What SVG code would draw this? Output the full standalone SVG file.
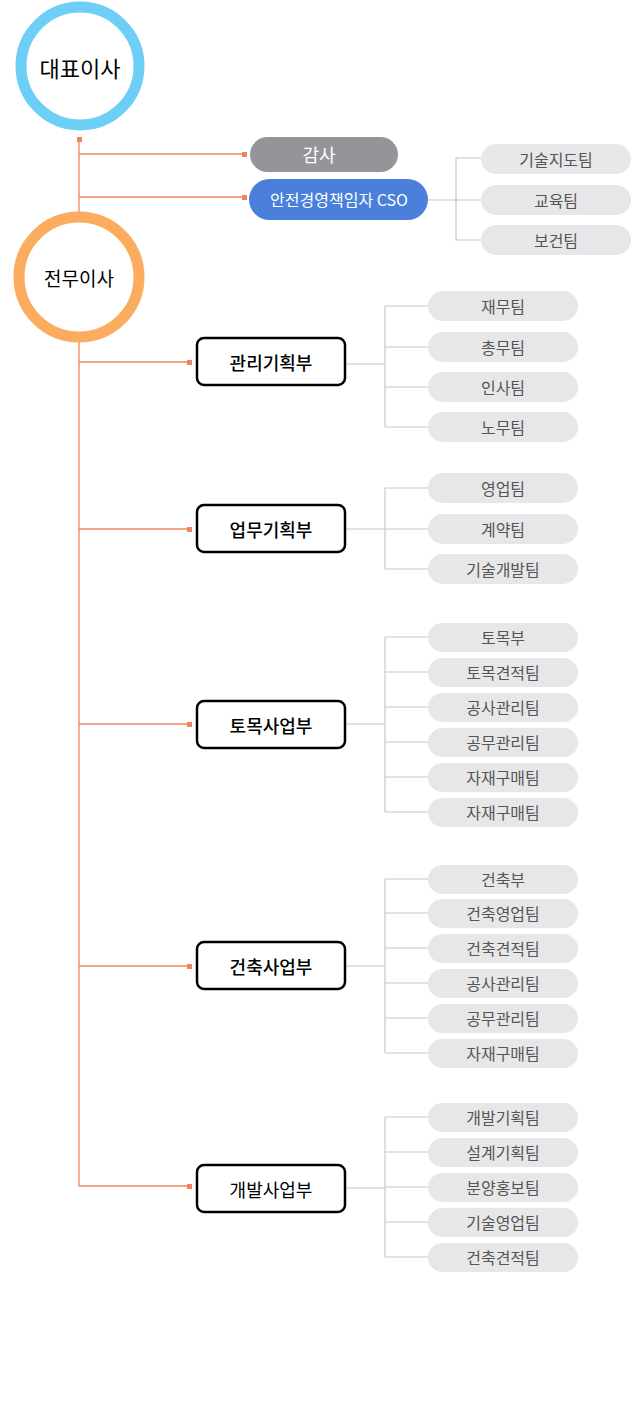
<svg xmlns="http://www.w3.org/2000/svg" width="640" height="1410" viewBox="0 0 640 1410">
<style>
text{font-family:"Noto Sans CJK KR","Noto Sans",sans-serif;text-anchor:middle;dominant-baseline:central}
.o{stroke:#f0845e;stroke-width:1.3;fill:none}
.g{stroke:#c8c8c8;stroke-width:1.2;fill:none}
.sq{fill:#f0845e}
.team rect{fill:#e7e7e9}
.team text{font-size:16px;fill:#555}
.dept rect{fill:#fff;stroke:#000;stroke-width:2.5}
.dept text{font-size:18px;fill:#000;font-weight:500}
</style>
<g id="connectors">
<line class="o" x1="79" y1="140" x2="79" y2="1186"/>
<rect class="sq" x="77" y="137" width="5" height="5"/>
<line class="o" x1="79" y1="154" x2="245" y2="154"/><rect class="sq" x="242" y="152" width="5" height="5"/>
<line class="o" x1="79" y1="197" x2="245" y2="197"/><rect class="sq" x="242" y="195" width="5" height="5"/>
<path class="g" d="M428 200H456M481 158H456V240H481M456 200H481"/>
<g id="dl">
<line class="o" x1="79" y1="362" x2="190" y2="362"/><rect class="sq" x="187" y="360" width="5" height="5"/>
<line class="o" x1="79" y1="529" x2="190" y2="529"/><rect class="sq" x="187" y="527" width="5" height="5"/>
<line class="o" x1="79" y1="724" x2="190" y2="724"/><rect class="sq" x="187" y="722" width="5" height="5"/>
<line class="o" x1="79" y1="966" x2="190" y2="966"/><rect class="sq" x="187" y="964" width="5" height="5"/>
<line class="o" x1="79" y1="1186" x2="190" y2="1186"/><rect class="sq" x="187" y="1184" width="5" height="5"/>
</g>
<path class="g" d="M345 364H385M385 306V427M385 306H428M385 347H428M385 387H428M385 427H428"/>
<path class="g" d="M345 529H385M385 488V569M385 488H428M385 529H428M385 569H428"/>
<path class="g" d="M345 724H385M385 637V812M385 637H428M385 672H428M385 707H428M385 742H428M385 777H428M385 812H428"/>
<path class="g" d="M345 966H385M385 879V1053M385 879H428M385 913H428M385 948H428M385 983H428M385 1018H428M385 1053H428"/>
<path class="g" d="M345 1188H385M385 1117V1257M385 1117H428M385 1152H428M385 1187H428M385 1222H428M385 1257H428"/>
</g>
<g id="ceo"><circle cx="80" cy="66" r="59" fill="#fff" stroke="#6dcff6" stroke-width="11"/><text x="80" y="67" font-size="22" fill="#000">대표이사</text></g>
<g id="coo"><circle cx="79" cy="277" r="60" fill="#fff" stroke="#fbac5e" stroke-width="11"/><text x="79" y="277" font-size="19" fill="#000">전무이사</text></g>
<g id="audit"><rect x="250" y="137" width="148" height="35" rx="17.5" fill="#939598"/><text x="319" y="154" font-size="18" fill="#fff">감사</text></g>
<g id="cso"><rect x="249" y="179" width="179" height="41" rx="20.5" fill="#4a7fdb"/><text x="339" y="199" font-size="16" fill="#fff">안전경영책임자 CSO</text></g>
<g class="team" id="t1"><rect x="481" y="144" width="150" height="30" rx="15"/><text x="556" y="159">기술지도팀</text></g>
<g class="team" id="t2"><rect x="481" y="185" width="150" height="30" rx="15"/><text x="556" y="200">교육팀</text></g>
<g class="team" id="t3"><rect x="481" y="225" width="150" height="30" rx="15"/><text x="556" y="240">보건팀</text></g>
<g class="dept" id="d1"><rect x="197" y="338" width="148" height="47" rx="7"/><text x="271" y="362">관리기획부</text></g>
<g class="dept" id="d2"><rect x="197" y="505" width="148" height="47" rx="7"/><text x="271" y="529">업무기획부</text></g>
<g class="dept" id="d3"><rect x="197" y="701" width="148" height="47" rx="7"/><text x="271" y="725">토목사업부</text></g>
<g class="dept" id="d4"><rect x="197" y="942" width="148" height="47" rx="7"/><text x="271" y="966">건축사업부</text></g>
<g class="dept" id="d5"><rect x="197" y="1165" width="148" height="47" rx="7"/><text x="271" y="1189" style="font-weight:400">개발사업부</text></g>
<g class="team" id="a1"><rect x="428" y="291" width="150" height="30" rx="15"/><text x="503" y="306">재무팀</text></g>
<g class="team" id="a2"><rect x="428" y="332" width="150" height="30" rx="15"/><text x="503" y="347">총무팀</text></g>
<g class="team" id="a3"><rect x="428" y="372" width="150" height="30" rx="15"/><text x="503" y="387">인사팀</text></g>
<g class="team" id="a4"><rect x="428" y="412" width="150" height="30" rx="15"/><text x="503" y="427">노무팀</text></g>
<g class="team" id="b1"><rect x="428" y="473" width="150" height="30" rx="15"/><text x="503" y="488">영업팀</text></g>
<g class="team" id="b2"><rect x="428" y="514" width="150" height="30" rx="15"/><text x="503" y="529">계약팀</text></g>
<g class="team" id="b3"><rect x="428" y="554" width="150" height="30" rx="15"/><text x="503" y="569">기술개발팀</text></g>
<g class="team" id="c1"><rect x="428" y="623" width="150" height="29" rx="14.5"/><text x="503" y="637">토목부</text></g>
<g class="team" id="c2"><rect x="428" y="658" width="150" height="29" rx="14.5"/><text x="503" y="672">토목견적팀</text></g>
<g class="team" id="c3"><rect x="428" y="693" width="150" height="29" rx="14.5"/><text x="503" y="707">공사관리팀</text></g>
<g class="team" id="c4"><rect x="428" y="728" width="150" height="29" rx="14.5"/><text x="503" y="742">공무관리팀</text></g>
<g class="team" id="c5"><rect x="428" y="763" width="150" height="29" rx="14.5"/><text x="503" y="777">자재구매팀</text></g>
<g class="team" id="c6"><rect x="428" y="798" width="150" height="29" rx="14.5"/><text x="503" y="812">자재구매팀</text></g>
<g class="team" id="e1"><rect x="428" y="865" width="150" height="29" rx="14.5"/><text x="503" y="879">건축부</text></g>
<g class="team" id="e2"><rect x="428" y="899" width="150" height="29" rx="14.5"/><text x="503" y="913">건축영업팀</text></g>
<g class="team" id="e3"><rect x="428" y="934" width="150" height="29" rx="14.5"/><text x="503" y="948">건축견적팀</text></g>
<g class="team" id="e4"><rect x="428" y="969" width="150" height="29" rx="14.5"/><text x="503" y="983">공사관리팀</text></g>
<g class="team" id="e5"><rect x="428" y="1004" width="150" height="29" rx="14.5"/><text x="503" y="1018">공무관리팀</text></g>
<g class="team" id="e6"><rect x="428" y="1039" width="150" height="29" rx="14.5"/><text x="503" y="1053">자재구매팀</text></g>
<g class="team" id="f1"><rect x="428" y="1103" width="150" height="29" rx="14.5"/><text x="503" y="1117">개발기획팀</text></g>
<g class="team" id="f2"><rect x="428" y="1138" width="150" height="29" rx="14.5"/><text x="503" y="1152">설계기획팀</text></g>
<g class="team" id="f3"><rect x="428" y="1173" width="150" height="29" rx="14.5"/><text x="503" y="1187">분양홍보팀</text></g>
<g class="team" id="f4"><rect x="428" y="1208" width="150" height="29" rx="14.5"/><text x="503" y="1222">기술영업팀</text></g>
<g class="team" id="f5"><rect x="428" y="1243" width="150" height="29" rx="14.5"/><text x="503" y="1257">건축견적팀</text></g>
</svg>
